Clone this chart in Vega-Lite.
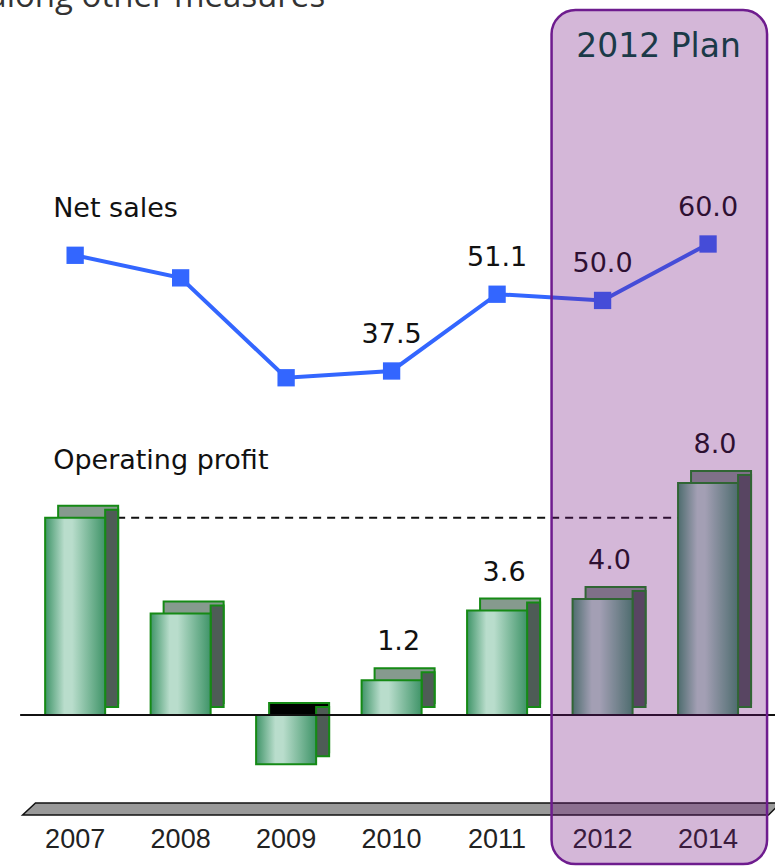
{
  "$schema": "https://vega.github.io/schema/vega-lite/v6.json",
  "width": 775,
  "height": 800,
  "autosize": {"type": "none"},
  "padding": {"left": 0, "top": 0, "right": 0, "bottom": 67},
  "background": "white",
  "datasets": {
    "main": [
      {"year": "2007", "op": 6.8, "ns": 58.0},
      {"year": "2008", "op": 3.5, "ns": 54.0},
      {"year": "2009", "op": -1.7, "ns": 36.3},
      {"year": "2010", "op": 1.2, "ns": 37.5},
      {"year": "2011", "op": 3.6, "ns": 51.1},
      {"year": "2012", "op": 4.0, "ns": 50.0},
      {"year": "2014", "op": 8.0, "ns": 60.0}
    ]
  },
  "config": {
    "view": {"stroke": null},
    "axis": {"domain": false, "ticks": false, "grid": false, "labelFont": "Liberation Sans", "labelFontSize": 27, "labelColor": "#222222", "labelPadding": 26, "labelAngle": 0}
  },
  "resolve": {"scale": {"y": "independent"}},
  "layer": [
    {
      "data": {"name": "main"},
      "transform": [{"filter": "datum.year == '2007'"}],
      "mark": {"type": "rule", "strokeDash": [8, 6], "strokeWidth": 2, "color": "#111111"},
      "encoding": {
        "x": {"field": "year", "type": "ordinal", "title": null, "scale": {"type": "band", "domain": ["2007", "2008", "2009", "2010", "2011", "2012", "2014"], "paddingInner": 0.431, "paddingOuter": 0.389, "align": 0.55}},
        "x2": {"datum": "2014"},
        "y": {"field": "op", "type": "quantitative", "axis": null, "scale": {"domain": [-2.931, 24.655], "nice": false}}
      }
    },
    {
      "data": {"name": "main"},
      "mark": {"type": "bar", "xOffset": 13, "yOffset": -12, "y2Offset": -12, "stroke": "#158a15", "strokeWidth": 2},
      "encoding": {
        "x": {"field": "year", "type": "ordinal", "title": null, "scale": {"type": "band", "domain": ["2007", "2008", "2009", "2010", "2011", "2012", "2014"], "paddingInner": 0.431, "paddingOuter": 0.389, "align": 0.55}},
        "y": {"field": "op", "type": "quantitative", "axis": null, "scale": {"domain": [-2.931, 24.655], "nice": false}},
        "y2": {"datum": 0},
        "color": {"condition": {"test": "datum.op < 0", "value": "#000000"}, "value": "#869a8e"}
      }
    },
    {
      "data": {"name": "main"},
      "mark": {"type": "bar", "width": 13, "xOffset": 36.5, "yOffset": -8, "y2Offset": -8, "fill": "#4e5c56", "stroke": "#158a15", "strokeWidth": 2},
      "encoding": {
        "x": {"field": "year", "type": "ordinal", "title": null, "scale": {"type": "band", "domain": ["2007", "2008", "2009", "2010", "2011", "2012", "2014"], "paddingInner": 0.431, "paddingOuter": 0.389, "align": 0.55}},
        "y": {"field": "op", "type": "quantitative", "axis": null, "scale": {"domain": [-2.931, 24.655], "nice": false}},
        "y2": {"datum": 0}
      }
    },
    {
      "data": {"name": "main"},
      "mark": {"type": "bar", "stroke": "#158a15", "strokeWidth": 2, "fill": {"gradient": "linear", "x1": 0, "x2": 1, "y1": 0, "y2": 0, "stops": [{"offset": 0, "color": "#3f9468"}, {"offset": 0.32, "color": "#b9ddcc"}, {"offset": 0.45, "color": "#b9ddcc"}, {"offset": 1, "color": "#3f9468"}]}},
      "encoding": {
        "x": {"field": "year", "type": "ordinal", "title": null, "scale": {"type": "band", "domain": ["2007", "2008", "2009", "2010", "2011", "2012", "2014"], "paddingInner": 0.431, "paddingOuter": 0.389, "align": 0.55}},
        "y": {"field": "op", "type": "quantitative", "axis": null, "scale": {"domain": [-2.931, 24.655], "nice": false}},
        "y2": {"datum": 0}
      }
    },
    {
      "data": {"values": [{}]},
      "mark": {"type": "rule", "color": "#111111", "strokeWidth": 2, "xOffset": -25, "x2Offset": 67},
      "encoding": {
        "x": {"datum": "2007", "type": "ordinal", "bandPosition": 0, "title": null},
        "x2": {"datum": "2014"},
        "y": {"datum": 0, "type": "quantitative", "axis": null, "scale": {"domain": [-2.931, 24.655], "nice": false}}
      }
    },
    {
      "data": {"name": "main"},
      "transform": [{"filter": "toNumber(datum.year) >= 2010"}],
      "mark": {"type": "text", "font": "DejaVu Sans", "fontSize": 27, "color": "#111111", "baseline": "alphabetic", "dy": -30, "dx": 7},
      "encoding": {
        "x": {"field": "year", "type": "ordinal", "title": null, "scale": {"type": "band", "domain": ["2007", "2008", "2009", "2010", "2011", "2012", "2014"], "paddingInner": 0.431, "paddingOuter": 0.389, "align": 0.55}},
        "y": {"field": "op", "type": "quantitative", "axis": null, "scale": {"domain": [-2.931, 24.655], "nice": false}},
        "text": {"field": "op", "type": "quantitative", "format": ".1f"}
      }
    },
    {
      "data": {"name": "main"},
      "mark": {"type": "line", "color": "#3366ff", "strokeWidth": 4},
      "encoding": {
        "x": {"field": "year", "type": "ordinal", "title": null, "scale": {"type": "band", "domain": ["2007", "2008", "2009", "2010", "2011", "2012", "2014"], "paddingInner": 0.431, "paddingOuter": 0.389, "align": 0.55}},
        "y": {"field": "ns", "type": "quantitative", "axis": null, "scale": {"domain": [-38.51, 103.23], "nice": false}}
      }
    },
    {
      "data": {"name": "main"},
      "mark": {"type": "point", "shape": "square", "filled": true, "size": 300, "color": "#3366ff", "opacity": 1},
      "encoding": {
        "x": {"field": "year", "type": "ordinal", "title": null, "scale": {"type": "band", "domain": ["2007", "2008", "2009", "2010", "2011", "2012", "2014"], "paddingInner": 0.431, "paddingOuter": 0.389, "align": 0.55}},
        "y": {"field": "ns", "type": "quantitative", "axis": null, "scale": {"domain": [-38.51, 103.23], "nice": false}}
      }
    },
    {
      "data": {"name": "main"},
      "transform": [{"filter": "toNumber(datum.year) >= 2010"}],
      "mark": {"type": "text", "font": "DejaVu Sans", "fontSize": 27, "color": "#111111", "baseline": "alphabetic", "dy": -28},
      "encoding": {
        "x": {"field": "year", "type": "ordinal", "title": null, "scale": {"type": "band", "domain": ["2007", "2008", "2009", "2010", "2011", "2012", "2014"], "paddingInner": 0.431, "paddingOuter": 0.389, "align": 0.55}},
        "y": {"field": "ns", "type": "quantitative", "axis": null, "scale": {"domain": [-38.51, 103.23], "nice": false}},
        "text": {"field": "ns", "type": "quantitative", "format": ".1f"}
      }
    },
    {
      "data": {"values": [{}]},
      "mark": {"type": "text", "text": "Net sales", "font": "DejaVu Sans", "fontSize": 27, "color": "#111111", "align": "left", "baseline": "alphabetic", "dx": 8},
      "encoding": {
        "x": {"datum": "2007", "type": "ordinal", "bandPosition": 0, "title": null},
        "y": {"datum": 17.17, "type": "quantitative", "axis": null, "scale": {"domain": [-2.931, 24.655], "nice": false}}
      }
    },
    {
      "data": {"values": [{}]},
      "mark": {"type": "text", "text": "Operating profit", "font": "DejaVu Sans", "fontSize": 27, "color": "#111111", "align": "left", "baseline": "alphabetic", "dx": 8},
      "encoding": {
        "x": {"datum": "2007", "type": "ordinal", "bandPosition": 0, "title": null},
        "y": {"datum": 8.48, "type": "quantitative", "axis": null, "scale": {"domain": [-2.931, 24.655], "nice": false}}
      }
    },
    {
      "data": {"values": [{}]},
      "mark": {"type": "point", "shape": "M -0.966 -0.0158 L 1 -0.0158 L 0.968 0.0158 L -1 0.0158 Z", "size": 574564, "filled": true, "fill": "#999999", "stroke": "#111111", "strokeWidth": 1.5, "opacity": 1, "xOffset": 10},
      "encoding": {
        "x": {"datum": "2010", "type": "ordinal", "title": null},
        "y": {"datum": -3.241, "type": "quantitative", "axis": null, "scale": {"domain": [-2.931, 24.655], "nice": false}}
      }
    },
    {
      "data": {"values": [{}]},
      "mark": {"type": "rect", "fill": "#70127d", "fillOpacity": 0.3, "stroke": "#6e1c8e", "strokeWidth": 2.5, "cornerRadius": 24, "xOffset": -21, "x2Offset": 59},
      "encoding": {
        "x": {"datum": "2012", "type": "ordinal", "bandPosition": 0, "title": null},
        "x2": {"datum": "2014"},
        "y": {"datum": 24.31, "type": "quantitative", "axis": null, "scale": {"domain": [-2.931, 24.655], "nice": false}},
        "y2": {"datum": -5.14}
      }
    },
    {
      "data": {"values": [{}]},
      "mark": {"type": "text", "text": "2012 Plan", "font": "DejaVu Sans", "fontSize": 33, "color": "#1b3a48", "align": "center", "baseline": "alphabetic", "dx": 56},
      "encoding": {
        "x": {"datum": "2012", "type": "ordinal", "title": null},
        "y": {"datum": 22.69, "type": "quantitative", "axis": null, "scale": {"domain": [-2.931, 24.655], "nice": false}}
      }
    },
    {
      "data": {"values": [{}]},
      "mark": {"type": "text", "text": "along other measures", "font": "Open Sans", "fontSize": 33, "color": "#333333", "align": "right", "baseline": "alphabetic", "dx": 39},
      "encoding": {
        "x": {"datum": "2009", "type": "ordinal", "title": null},
        "y": {"datum": 24.41, "type": "quantitative", "axis": null, "scale": {"domain": [-2.931, 24.655], "nice": false}}
      }
    }
  ]
}
